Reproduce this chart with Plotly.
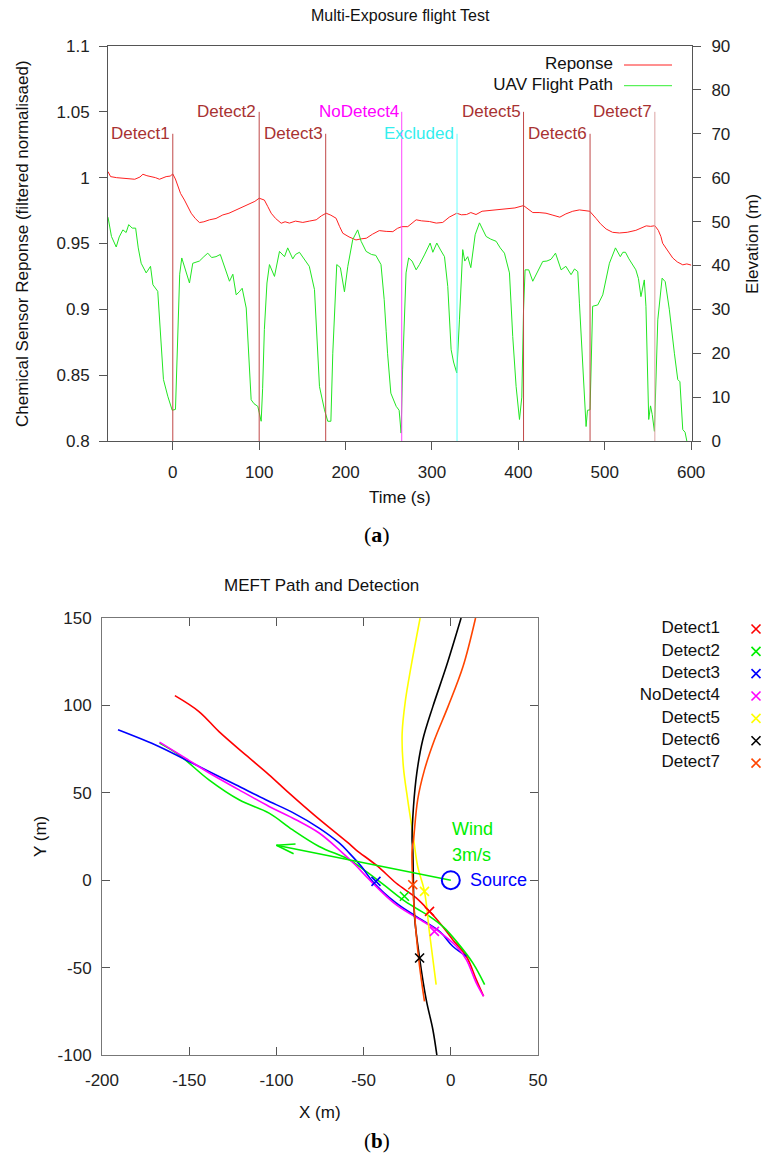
import math
import plotly.graph_objects as go

# The page body has an 8px default margin: the figure starts at (8, 8) in the window.
PAGE_W, PAGE_H, BODY_MARGIN = 771, 1162, 8
W, H = PAGE_W - 2 * BODY_MARGIN, PAGE_H - 2 * BODY_MARGIN
FONT = "Liberation Sans, Arial, sans-serif"

# ---------------- (a) Multi-Exposure flight Test ----------------
resp_t = [-75, -72, -65, -57.5, -50, -44, -38, -34.6, -30, -25, -20, -15.4, -11, -7.7, -3, 0, 3, 5.8, 9,
          13.5, 17, 21.3, 26, 30.9, 36, 42.5, 50, 57.9, 65, 73.4, 80, 88.8, 95, 100, 106, 110, 113.9, 119,
          125.5, 130, 135, 142, 150.5, 158, 166, 172, 177.5, 183, 189, 193, 196.8, 204, 212, 218, 224, 231,
          239, 247, 254.7, 260, 265, 272, 276, 281.7, 288, 297, 305, 312.5, 320, 328.7, 334, 340, 345, 351,
          358, 366.6, 376, 386, 396, 406, 411, 416.7, 424, 432, 440, 448, 455, 463, 470.7, 477, 482.6, 490,
          495, 501.6, 509, 517, 526, 536, 542, 548, 553, 558, 562, 565, 567, 572, 578.7, 584, 590.3, 595, 600]
resp_v = [1.0046, 1.0008, 1.0000, 0.9996, 0.9992, 0.9988, 1.0005, 1.0026, 1.0015, 1.0008, 1.0000, 0.9988,
          0.9998, 1.0008, 1.0012, 1.0028, 0.9990, 0.9932, 0.9880, 0.9830, 0.9780, 0.9730, 0.9690, 0.9659,
          0.9665, 0.9680, 0.9690, 0.9717, 0.9730, 0.9755, 0.9770, 0.9798, 0.9820, 0.9844, 0.9830, 0.9780,
          0.9730, 0.9690, 0.9654, 0.9665, 0.9655, 0.9670, 0.9660, 0.9670, 0.9680, 0.9710, 0.9730, 0.9715,
          0.9692, 0.9630, 0.9578, 0.9550, 0.9527, 0.9535, 0.9540, 0.9570, 0.9598, 0.9592, 0.9590, 0.9615,
          0.9628, 0.9628, 0.9650, 0.9680, 0.9672, 0.9667, 0.9655, 0.9660, 0.9700, 0.9730, 0.9718, 0.9720,
          0.9735, 0.9720, 0.9745, 0.9750, 0.9755, 0.9760, 0.9770, 0.9788, 0.9760, 0.9735, 0.9735, 0.9730,
          0.9715, 0.9700, 0.9725, 0.9745, 0.9755, 0.9750, 0.9745, 0.9690, 0.9650, 0.9610, 0.9585, 0.9580,
          0.9585, 0.9600, 0.9620, 0.9634, 0.9630, 0.9635, 0.9600, 0.9553, 0.9502, 0.9450, 0.9390, 0.9360,
          0.9338, 0.9345, 0.9336]

elev_t = [-75, -71, -65.5, -62, -57.8, -54, -51, -47, -43, -40, -36.6, -30.8, -25.8, -23, -17.4, -15, -13.5,
          -10.8, -5.8, -2, -0.7, 3.1, 5.8, 8, 10.4, 14.3, 19.3, 23.1, 30.8, 36, 40.5, 45, 50, 55, 59.8, 62,
          65.6, 69.5, 73.4, 77, 80.3, 85, 87, 89, 90.7, 94, 98.4, 100, 102.3, 104, 106, 109, 111.9, 117.7,
          123.5, 129.3, 133, 138.9, 142, 146.6, 152, 158, 164, 167, 169.8, 175.6, 179.4, 183, 185.2, 189.8,
          194, 198.7, 202.6, 208.3, 214, 218, 223.8, 230, 235, 241, 244.7, 247, 248.6, 252.4, 258.6, 262,
          264.3, 266, 270, 273, 277, 281.7, 285.5, 291.3, 297.9, 301, 305.6, 310, 314.5, 318.3, 322.2, 325,
          328.7, 331.8, 335.6, 338, 341.4, 345, 350, 355, 358, 362.7, 368, 374.3, 379, 383.9, 389.7, 393.5,
          397.4, 401.3, 404, 406, 407.8, 412, 416.7, 423.4, 428.2, 433, 437.8, 443, 449.5, 455, 461, 465,
          468.8, 470.7, 474.5, 478.4, 480, 483, 486, 491.9, 497.7, 505.4, 512.4, 518, 521, 524, 528, 536,
          539, 541.9, 545.8, 547.7, 550.9, 553, 555, 557.5, 561.4, 566.4, 570, 574.8, 580.6, 584.5, 587,
          590.3, 593, 595]
elev_v = [51, 46.6, 44.2, 46.5, 48.1, 47.5, 49.3, 48.5, 48.5, 44, 40.5, 38.3, 39.8, 35.6, 34.1, 27, 20,
          14, 10.2, 8, 7, 7.2, 26.1, 38, 41.7, 39, 36, 40.5, 41, 42, 42.8, 41.8, 42, 42.5, 39.8, 38.5,
          36.4, 38, 33.3, 34, 34.8, 30.3, 22, 13, 9.4, 8.5, 7.9, 6.5, 4.5, 12, 25.4, 36, 40.2, 37.5,
          43.2, 42, 44, 41.5, 42.5, 43, 41.5, 39.8, 34.5, 24, 12.4, 7.1, 4.5, 4.5, 20, 40.2,
          39.5, 34, 39.8, 45.9, 48.1, 45.5, 43.2, 42.5, 42.3, 40.2, 32.2, 25, 20, 10.9, 7.9, 7,
          1.8, 16.2, 38.3, 41.7, 41, 39, 40.2, 42.4, 45.1, 43, 45.1, 43.5, 42, 35.2, 20.8, 18,
          15.5, 27.6, 43.6, 41, 42, 39.5, 47, 49.7, 48.5, 46.6, 46, 45.5, 44, 42.8, 38.3, 23.8,
          12.4, 4.9, 10, 29.9, 39, 39, 36.4, 39, 40.9, 41, 41.4, 42.8, 39, 39.8, 37.9, 39.2,
          38.6, 31.4, 18.5, 3.3, 7, 7.1, 30.7, 31, 33.3, 40.5, 44, 42, 43, 43, 41.5, 39,
          37, 32.9, 36.7, 30.7, 4.9, 8, 6, 2.2, 27.6, 37.1, 36.3, 29.9, 20, 14, 13.5,
          2.6, 2, 0]

event_names = ["Detect1", "Detect2", "Detect3", "NoDetect4", "Excluded", "Detect5", "Detect6", "Detect7"]
event_times = [0, 100, 177, 265, 329, 406, 483, 558]
event_tops = [70, 75, 70, 75, 70, 75, 70, 75]          # in elevation units (right axis)
event_text_colors = ["#a83232", "#a83232", "#a83232", "#ff00ff", "#33eeee", "#a83232", "#a83232", "#a83232"]
event_line_colors = ["#c04848", "#c04848", "#c04848", "#ff44ff", "#66ffff", "#c04848", "#c04848", "#dba3a3"]

top_legend_names = ["Reponse", "UAV Flight Path"]
top_legend_colors = ["#ff2020", "#33ee33"]

resp_ticks = [0.8, 0.85, 0.9, 0.95, 1.0, 1.05, 1.1]
resp_ticktext = ["0.8", "0.85", "0.9", "0.95", "1", "1.05", "1.1"]
elev_ticks = [0, 10, 20, 30, 40, 50, 60, 70, 80, 90]
time_ticks = [0, 100, 200, 300, 400, 500, 600]

# ---------------- (b) MEFT Path and Detection ----------------
path_names = ["Detect1", "Detect2", "Detect3", "NoDetect4", "Detect5", "Detect6", "Detect7"]
path_colors = ["#ff0000", "#00ee00", "#0000ff", "#ff00ff", "#ffff00", "#000000", "#ff4500"]

p1_x = [-158.2, -144.4, -132.9, -117.6, -104.2, -92.7, -77.4, -59.2, -54.4, -42, -31.4, -20, -12.2, -5, 1.1, 8.9, 14.6, 18.8]
p1_y = [105.6, 96.5, 85, 71.7, 60.3, 49.8, 36.5, 21.6, 17.4, 8, -1.6, -10, -17.8, -26, -34, -43.5, -56.9, -66.4]
p2_x = [-167, -155.9, -138.7, -121.4, -104.2, -90.8, -75.5, -58.2, -48.6, -38, -27.6, -20, -12.2, -4, 3.2, 12.6, 19.4]
p2_y = [78.4, 71.7, 57.4, 46, 38.4, 28.9, 19.3, 11.7, 5, -3, -11.1, -16, -20.7, -27, -35, -47.3, -59.7]
p3_x = [-190.8, -167.4, -152.1, -138.7, -123.3, -106.1, -90.8, -75.5, -64, -58.2, -51, -44.8, -31.4, -19.9, -6.5, 1.1, 8.9]
p3_y = [86, 76.5, 68.9, 62.2, 54.6, 46, 38.8, 29.8, 21.3, 15.5, 7.5, -0.7, -13, -20.7, -29.2, -37.8, -43.5]
p4_x = [-167, -152.1, -136.8, -121.4, -104.2, -88.8, -75.5, -64, -55, -46.7, -31.4, -16.1, -8.4, 3.2, 8.9, 14.6, 18.8]
p4_y = [79, 69.8, 60.3, 51.7, 42.2, 34.6, 27, 17.4, 9, 0.3, -14, -23.5, -28.3, -37.8, -45.4, -58.7, -66.4]
p5_x = [-17.6, -22.8, -26, -27.9, -27.2, -24.7, -21.8, -19, -15.1, -12.2, -8.4]
p5_y = [150, 122.2, 103, 84, 65, 46, 27, 7.9, -6.4, -30.2, -59.7]
p6_x = [5.9, -2.6, -10.3, -16.1, -19.5, -21.4, -22.2, -21.8, -20.8, -17.9, -14.1, -10.3, -8]
p6_y = [150, 122.2, 99.3, 80.2, 61.3, 42, 23, 17.4, -20.7, -44.5, -68.3, -85.4, -100]
p7_x = [14.2, 7, -1.6, -9.4, -15.1, -19, -21.4, -22.2, -21.8, -19.9, -17.9, -15.1]
p7_y = [150, 122.2, 99.3, 80.2, 63.1, 46, 23, 17.4, -2.6, -30.2, -49.3, -69.3]
paths_x = [p1_x, p2_x, p3_x, p4_x, p5_x, p6_x, p7_x]
paths_y = [p1_y, p2_y, p3_y, p4_y, p5_y, p6_y, p7_y]

detect_x = [-12.2, -26.6, -42.9, -9.4, -15.1, -17.9, -21.8]
detect_y = [-17.8, -9.2, -0.7, -29.3, -6.4, -44.5, -2.6]

source_xy = (0, 0)
wind_to = (-100, 20)
wind_label = ["Wind", "3m/s"]

map_x_ticks = [-200, -150, -100, -50, 0, 50]
map_y_ticks = [-100, -50, 0, 50, 100, 150]


def px(x):
    """reference page pixel x -> paper fraction"""
    return (x - BODY_MARGIN) / W


def py(y):
    """reference page pixel y -> paper fraction"""
    return 1 - (y - BODY_MARGIN) / H


fig = go.Figure()

# ---- top chart traces ----
fig.add_trace(go.Scatter(x=resp_t, y=resp_v, mode="lines", line=dict(color="#ff2020", width=1),
                         xaxis="x", yaxis="y", showlegend=False))
fig.add_trace(go.Scatter(x=elev_t, y=elev_v, mode="lines", line=dict(color="#22e622", width=1),
                         xaxis="x", yaxis="y2", showlegend=False))
for t, top, lc in zip(event_times, event_tops, event_line_colors):
    fig.add_trace(go.Scatter(x=[t, t], y=[0, top], mode="lines", line=dict(color=lc, width=1),
                             xaxis="x", yaxis="y2", showlegend=False, hoverinfo="skip"))

annotations = []
for name, t, top, tc in zip(event_names, event_times, event_tops, event_text_colors):
    annotations.append(dict(x=t, y=top, xref="x", yref="y2", text=name, showarrow=False,
                            xanchor="right", yanchor="middle", xshift=-1,
                            font=dict(family=FONT, size=17, color=tc)))

# top legend (text right-aligned, line sample on the right)
for i, (n, c) in enumerate(zip(top_legend_names, top_legend_colors)):
    fig.add_trace(go.Scatter(x=[0], y=[i], mode="text", text=[n], textposition="middle left",
                             textfont=dict(family=FONT, size=17, color="#111"), cliponaxis=False,
                             xaxis="x4", yaxis="y5", showlegend=False, hoverinfo="skip"))
    fig.add_trace(go.Scatter(x=[11, 59], y=[i, i], mode="lines", line=dict(color=c, width=1),
                             cliponaxis=False,
                             xaxis="x4", yaxis="y5", showlegend=False, hoverinfo="skip"))

# ---- bottom chart traces ----
for xs, ys, c in zip(paths_x, paths_y, path_colors):
    fig.add_trace(go.Scatter(x=xs, y=ys, mode="lines", line=dict(color=c, width=1.6, shape="spline"),
                             xaxis="x2", yaxis="y3", showlegend=False))
for dx, dy, c in zip(detect_x, detect_y, path_colors):
    fig.add_trace(go.Scatter(x=[dx], y=[dy], mode="markers",
                             marker=dict(symbol="x-thin", size=9, color=c, line=dict(color=c, width=1.6)),
                             xaxis="x2", yaxis="y3", showlegend=False))

# wind arrow (line + open arrowhead derived from the wind vector)
sx, sy = source_xy
ex, ey = wind_to
fig.add_trace(go.Scatter(x=[sx, ex], y=[sy, ey], mode="lines", line=dict(color="#00ee00", width=1.6),
                         xaxis="x2", yaxis="y3", showlegend=False))
ang = math.atan2(sy - ey, sx - ex)
head_len = 11
for da in (math.radians(15), -math.radians(15)):
    hx = ex + head_len * math.cos(ang + da)
    hy = ey + head_len * math.sin(ang + da)
    fig.add_trace(go.Scatter(x=[ex, hx], y=[ey, hy], mode="lines", line=dict(color="#00ee00", width=1.6),
                             xaxis="x2", yaxis="y3", showlegend=False))
fig.add_trace(go.Scatter(x=[sx], y=[sy], mode="markers",
                         marker=dict(symbol="circle-open", size=18, color="#0000ff",
                                     line=dict(color="#0000ff", width=2)),
                         xaxis="x2", yaxis="y3", showlegend=False))
annotations.append(dict(x=sx, y=sy, xref="x2", yref="y3", text="Source", showarrow=False,
                        xanchor="left", yanchor="middle", xshift=17,
                        font=dict(family=FONT, size=18, color="#0000ff")))
annotations.append(dict(x=sx, y=sy, xref="x2", yref="y3", text=wind_label[0], showarrow=False,
                        xanchor="left", yanchor="middle", xshift=-1, yshift=51,
                        font=dict(family=FONT, size=18, color="#00ee00")))
annotations.append(dict(x=sx, y=sy, xref="x2", yref="y3", text=wind_label[1], showarrow=False,
                        xanchor="left", yanchor="middle", xshift=-1, yshift=25,
                        font=dict(family=FONT, size=18, color="#00ee00")))

# bottom legend
for i, (n, c) in enumerate(zip(path_names, path_colors)):
    fig.add_trace(go.Scatter(x=[0], y=[i], mode="text", text=[n], textposition="middle left",
                             textfont=dict(family=FONT, size=17, color="#111"), cliponaxis=False,
                             xaxis="x3", yaxis="y4", showlegend=False, hoverinfo="skip"))
    fig.add_trace(go.Scatter(x=[1], y=[i], mode="markers", cliponaxis=False,
                             marker=dict(symbol="x-thin", size=9, color=c, line=dict(color=c, width=1.6)),
                             xaxis="x3", yaxis="y4", showlegend=False, hoverinfo="skip"))


# ---- page texts ----
def txt(x, y, s, size=17, angle=0, color="#111", family=FONT):
    annotations.append(dict(x=px(x), y=py(y), xref="paper", yref="paper", text=s, showarrow=False,
                            xanchor="center", yanchor="middle", textangle=angle,
                            font=dict(family=family, size=size, color=color)))


txt(400, 15, "Multi-Exposure flight Test", size=16)
txt(22, 244, "Chemical Sensor Reponse (filtered normalisaed)", size=17, angle=-90)
txt(752, 244, "Elevation (m)", size=17, angle=-90)
txt(400, 497, "Time (s)", size=17)
txt(377, 534, "(<b>a</b>)", size=22, family="Liberation Serif, DejaVu Serif, serif", color="#000")
txt(321, 585, "MEFT Path and Detection", size=17)
txt(40, 837, "Y (m)", size=17, angle=-90)
txt(320, 1112, "X (m)", size=17)
txt(377, 1141, "(<b>b</b>)", size=21, family="Liberation Serif, DejaVu Serif, serif", color="#000")

tickfont = dict(family=FONT, size=17, color="#222")
axcol = "#555"
common = dict(showgrid=False, zeroline=False, automargin=False, tickfont=tickfont, tickcolor=axcol)

# legend axis ranges: text anchor at 0 (ref px 720), marker at 1 (ref px 756)
lx0, lx1, lpx0, lpx1 = 712, 762, 720, 756
l_scale = lpx1 - lpx0

fig.update_layout(
    template="none",
    width=W, height=H, margin=dict(l=0, r=0, t=0, b=0, pad=0),
    paper_bgcolor="white", plot_bgcolor="white", showlegend=False,
    font=dict(family=FONT, size=17, color="#111"),
    annotations=annotations,
    xaxis=dict(domain=[px(108), px(692)], range=[-75, 601], tickvals=time_ticks,
               ticktext=[str(v) for v in time_ticks],
               ticks="outside", ticklen=8, showline=True, linecolor=axcol, linewidth=1,
               mirror=True, anchor="y", ticklabelstandoff=8, **common),
    yaxis=dict(domain=[py(441), py(46)], range=[0.8, 1.1], tickvals=resp_ticks, ticktext=resp_ticktext,
               ticks="outside", ticklen=8, showline=True, linecolor=axcol,
               anchor="x", ticklabelstandoff=6, **common),
    yaxis2=dict(overlaying="y", side="right", range=[0, 90], tickvals=elev_ticks,
                ticktext=[str(v) for v in elev_ticks], ticks="outside", ticklen=8,
                showline=True, linecolor=axcol, anchor="x", ticklabelstandoff=7, **common),
    xaxis2=dict(domain=[px(102), px(538)], range=[-200, 50], tickvals=map_x_ticks,
                ticktext=[str(v) for v in map_x_ticks],
                ticks="inside", ticklen=8, showline=True, linecolor="#777",
                mirror="allticks", anchor="y3", ticklabelstandoff=10, **common),
    yaxis3=dict(domain=[py(1055), py(618)], range=[-100, 150], tickvals=map_y_ticks,
                ticktext=[str(v) for v in map_y_ticks],
                ticks="inside", ticklen=8, showline=True, linecolor="#777",
                mirror="allticks", anchor="x2", ticklabelstandoff=6, **common),
    xaxis3=dict(domain=[px(lx0), px(lx1)], range=[(lx0 - lpx0) / l_scale, (lx1 - lpx0) / l_scale],
                visible=False, anchor="y4", automargin=False),
    yaxis4=dict(domain=[py(772), py(620)], range=[6.40, -0.403], visible=False, anchor="x3", automargin=False),
    xaxis4=dict(domain=[px(613), px(673)], range=[0, 60], visible=False, anchor="y5", automargin=False),
    yaxis5=dict(domain=[py(96), py(55)], range=[1.498, -0.483], visible=False, anchor="x4", automargin=False),
)

fig.write_html("out.html")
